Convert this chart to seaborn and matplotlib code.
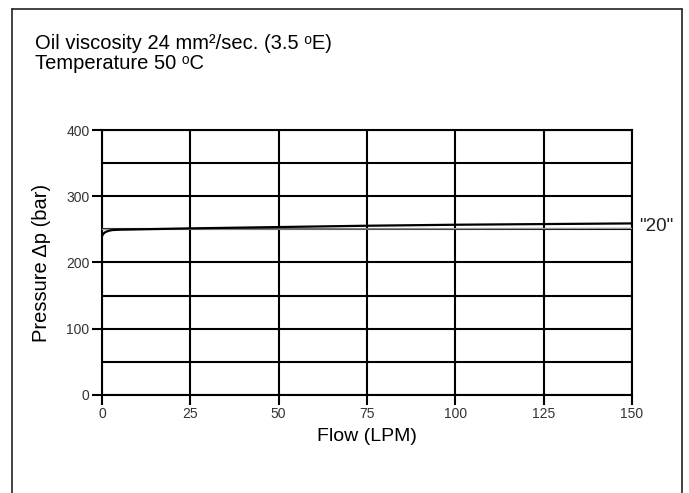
import numpy as np
import pandas as pd
import matplotlib
matplotlib.use("Agg")
import matplotlib.pyplot as plt
from matplotlib.lines import Line2D
from matplotlib.ticker import MultipleLocator
import seaborn as sns

# curve values
flow_main = [0, 0.5, 1, 2, 3, 5, 10, 25, 50, 75, 100, 125, 150]
pressure_main = [240, 244, 246, 248, 249, 249.5, 250, 251.5, 253.5, 255.5, 257, 258, 259]
flow_ref = [0, 150]
pressure_ref = [250, 251.5]
curve_label = '"20"'

sns.set_style("white")
plt.rcParams["font.family"] = ["Liberation Sans", "DejaVu Sans"]
plt.rcParams["text.color"] = "black"
plt.rcParams["axes.labelcolor"] = "black"

fig = plt.figure(figsize=(6.89, 4.93), dpi=100)
ax = fig.add_axes([0.148, 0.1988, 0.769, 0.5375])

df_main = pd.DataFrame({"flow": flow_main, "pressure": pressure_main})
df_ref = pd.DataFrame({"flow": flow_ref, "pressure": pressure_ref})

sns.lineplot(data=df_ref, x="flow", y="pressure", ax=ax, color="#9a9a9a",
             linewidth=1.0, zorder=3)
sns.lineplot(data=df_main, x="flow", y="pressure", ax=ax, color="black",
             linewidth=1.6, zorder=4)

ax.set_xlim(0, 150)
ax.set_ylim(0, 400)
ax.xaxis.set_major_locator(MultipleLocator(25))
ax.yaxis.set_major_locator(MultipleLocator(100))
ax.yaxis.set_minor_locator(MultipleLocator(50))
ax.grid(True, which="both", color="black", linewidth=1.5)
ax.set_axisbelow(True)
for s in ax.spines.values():
    s.set_color("black")
    s.set_linewidth(1.5)

ax.tick_params(axis="both", which="major", direction="out", length=7,
               width=1.5, color="black", labelsize=10, labelcolor="#333333",
               pad=2, bottom=True, left=True)
ax.tick_params(axis="y", which="minor", length=0)

ax.set_xlabel("Flow (LPM)", fontsize=14, labelpad=5)
ax.set_ylabel("Pressure \u0394p (bar)", fontsize=14.5, labelpad=11)

ax.text(152, 254, curve_label, fontsize=13.5, color="#222222",
        va="center", ha="left", clip_on=False)

fig.text(0.051, 0.901, "Oil viscosity 24 mm\u00b2/sec. (3.5 \u1d52E)",
         fontsize=14.5, ha="left", va="baseline")
fig.text(0.051, 0.861, "Temperature 50 \u1d52C", fontsize=14.5,
         ha="left", va="baseline")

# outer frame (open at the bottom)
frame_kw = dict(color="#222222", linewidth=1.2, transform=fig.transFigure)
fig.add_artist(Line2D([0.018, 0.018], [0.0, 0.981], **frame_kw))
fig.add_artist(Line2D([0.018, 0.990], [0.981, 0.981], **frame_kw))
fig.add_artist(Line2D([0.990, 0.990], [0.0, 0.981], **frame_kw))

fig.savefig("out.png", dpi=100)
